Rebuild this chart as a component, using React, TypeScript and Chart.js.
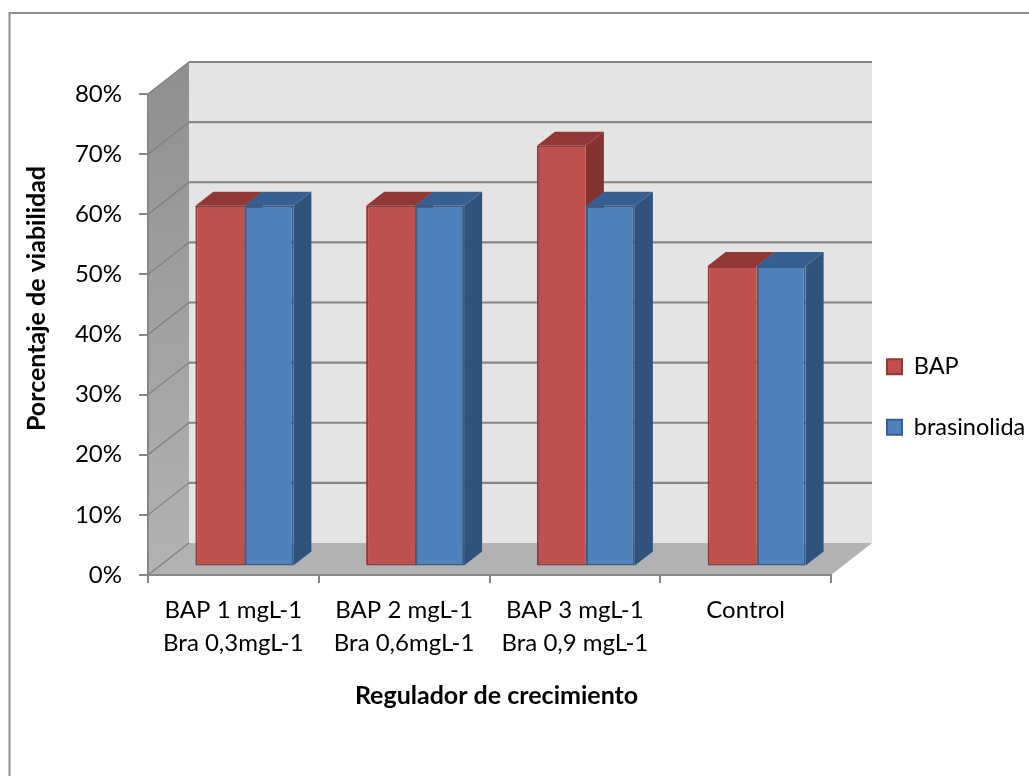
import React, { useEffect, useRef } from "react";
import { Chart, registerables } from "chart.js";

Chart.register(...registerables);

// Data
const categories = [
  ["BAP 1 mgL-1", "Bra 0,3mgL-1"],
  ["BAP 2 mgL-1", "Bra 0,6mgL-1"],
  ["BAP 3 mgL-1", "Bra 0,9 mgL-1"],
  ["Control"],
];
const bapValues = [60, 60, 70, 50];
const brasinolidaValues = [60, 60, 60, 50];
const yTitle = "Porcentaje de viabilidad";
const xTitle = "Regulador de crecimiento";

// Perspective of the box and of the columns inside it
const WALL_DX = 41;
const WALL_DY = -32;
const BAR_SHIFT_X = 11;
const BAR_SHIFT_Y = -8.5;
const BAR_DX = 18;
const BAR_DY = -14;

const FONT = "Lato, Carlito, Calibri, sans-serif";
const LINE = "#868686";

const poly = (ctx: CanvasRenderingContext2D, pts: number[][], fill: string | CanvasGradient) => {
  ctx.beginPath();
  pts.forEach(([x, y], i) => (i ? ctx.lineTo(x, y) : ctx.moveTo(x, y)));
  ctx.closePath();
  ctx.fillStyle = fill;
  ctx.fill();
};

// Frame, back wall, side wall and floor
const boxPlugin = {
  id: "box3d",
  beforeDraw(chart: any) {
    const { ctx, chartArea: a, scales } = chart;
    const { left: l, right: r, top: t, bottom: b } = a;
    ctx.save();
    ctx.fillStyle = "#ffffff";
    ctx.fillRect(0, 0, chart.width, chart.height);
    ctx.strokeStyle = "#8e8e8e";
    ctx.lineWidth = 2;
    ctx.beginPath();
    ctx.moveTo(9.5, chart.height);
    ctx.lineTo(9.5, 13);
    ctx.lineTo(chart.width, 13);
    ctx.stroke();

    poly(ctx, [[l + WALL_DX, t + WALL_DY], [r + WALL_DX, t + WALL_DY], [r + WALL_DX, b + WALL_DY], [l + WALL_DX, b + WALL_DY]], "#e4e4e4");
    const side = ctx.createLinearGradient(0, t + WALL_DY, 0, b);
    side.addColorStop(0, "#8f8f8f");
    side.addColorStop(1, "#b3b3b3");
    poly(ctx, [[l, t], [l + WALL_DX, t + WALL_DY], [l + WALL_DX, b + WALL_DY], [l, b]], side);
    poly(ctx, [[l, b], [l + WALL_DX, b + WALL_DY], [r + WALL_DX, b + WALL_DY], [r, b]], "#b2b2b2");

    for (const tick of scales.y.ticks) {
      const y = scales.y.getPixelForValue(tick.value);
      if (tick.value > 0) {
        ctx.strokeStyle = LINE;
        ctx.lineWidth = 2.2;
        ctx.beginPath();
        ctx.moveTo(l + WALL_DX, y + WALL_DY);
        ctx.lineTo(r + WALL_DX, y + WALL_DY);
        ctx.stroke();
      }
      ctx.strokeStyle = "#7d7d7d";
      ctx.lineWidth = 1.2;
      ctx.beginPath();
      ctx.moveTo(l, y);
      ctx.lineTo(l + WALL_DX, y + WALL_DY);
      ctx.stroke();
    }
    ctx.restore();
  },
};

// Side and top faces of the columns; the library paints the front faces afterwards
const columnPlugin = {
  id: "column3d",
  beforeDatasetsDraw(chart: any) {
    const { ctx } = chart;
    ctx.save();
    ctx.translate(BAR_SHIFT_X, BAR_SHIFT_Y);
    chart.data.datasets.forEach((ds: any, i: number) => {
      chart.getDatasetMeta(i).data.forEach((bar: any) => {
        const x0 = bar.x - bar.width / 2;
        const x1 = bar.x + bar.width / 2;
        const { y, base } = bar;
        poly(ctx, [[x1, y], [x1 + BAR_DX, y + BAR_DY], [x1 + BAR_DX, base + BAR_DY], [x1, base]], ds.sideColor);
        poly(ctx, [[x0, y], [x0 + BAR_DX, y + BAR_DY], [x1 + BAR_DX, y + BAR_DY], [x1, y]], ds.topColor);
      });
    });
  },
  afterDatasetsDraw(chart: any) {
    chart.ctx.restore();
  },
};

// Places the legend and shifts the axis titles to their spots on the page
const placementPlugin = {
  id: "placement",
  afterLayout(chart: any) {
    const legend = chart.legend;
    legend.left = 887 - legend.options.labels.padding;
    legend.right = chart.width;
    legend.width = legend.right - legend.left;
    legend.top = 318;
    legend.bottom = 520;
    legend.height = legend.bottom - legend.top;

    const shift = (scale: any, dx: number, dy: number) => {
      if (scale.$shifted) return;
      scale.$shifted = true;
      const draw = scale.drawTitle;
      scale.drawTitle = function () {
        this.ctx.save();
        this.ctx.translate(dx, dy);
        draw.call(this);
        this.ctx.restore();
      };
    };
    shift(chart.scales.y, 0, -36);
    shift(chart.scales.x, 7, 4);
  },
};

export default function App() {
  const ref = useRef<HTMLCanvasElement>(null);

  useEffect(() => {
    const chart = new Chart(ref.current as HTMLCanvasElement, {
      type: "bar",
      data: {
        labels: categories as any,
        datasets: [
          {
            label: "BAP",
            data: bapValues,
            backgroundColor: "#c0504d",
            borderColor: "#8e3a38",
            borderWidth: 2,
            borderSkipped: "right",
            sideColor: "#843230",
            topColor: "#913836",
            clip: false,
          },
          {
            label: "brasinolida",
            data: brasinolidaValues,
            backgroundColor: "#4f81bd",
            borderColor: "#385d8a",
            borderWidth: 2,
            borderSkipped: false,
            sideColor: "#30537c",
            topColor: "#376092",
            clip: false,
          },
        ] as any,
      },
      options: {
        animation: false,
        responsive: false,
        categoryPercentage: 0.574,
        barPercentage: 1,
        layout: {
          autoPadding: false,
          padding: { left: 20, right: 198, top: 94, bottom: 69 },
        },
        plugins: {
          tooltip: { enabled: false },
          legend: {
            position: "chartArea",
            align: "start",
            labels: {
              boxWidth: 15,
              boxHeight: 15,
              padding: 37,
              color: "#000000",
              font: { family: FONT, size: 23.5 },
            },
          },
        },
        scales: {
          x: {
            afterFit(scale: any) {
              scale.height = 132;
            },
            grid: {
              offset: true,
              drawOnChartArea: false,
              tickLength: 8,
              tickColor: LINE,
              lineWidth: 2,
            },
            border: { color: LINE, width: 2 },
            ticks: {
              maxRotation: 0,
              autoSkip: false,
              padding: 10,
              color: "#000000",
              font: { family: FONT, size: 24, lineHeight: 1.4 },
            },
            title: {
              display: true,
              text: xTitle,
              color: "#000000",
              padding: 0,
              font: { family: FONT, size: 25, weight: "bold" },
            },
          },
          y: {
            min: 0,
            max: 80,
            afterFit(scale: any) {
              scale.width = 128;
            },
            grid: {
              drawOnChartArea: false,
              tickLength: 9,
              tickColor: LINE,
              lineWidth: 2,
            },
            border: { color: LINE, width: 2 },
            ticks: {
              stepSize: 10,
              padding: 17,
              color: "#000000",
              font: { family: FONT, size: 24 },
              callback: (v: any) => `${v}%`,
            },
            title: {
              display: true,
              text: yTitle,
              color: "#000000",
              padding: { top: 2, bottom: 0 },
              font: { family: FONT, size: 25, weight: "bold" },
            },
          },
        },
      } as any,
      plugins: [boxPlugin, columnPlugin, placementPlugin],
    });
    return () => chart.destroy();
  }, []);

  return (
    <div style={{ position: "fixed", left: 0, top: 0, width: 1029, height: 776, background: "#fff" }}>
      <canvas ref={ref} width={1029} height={776} style={{ display: "block" }} />
    </div>
  );
}
